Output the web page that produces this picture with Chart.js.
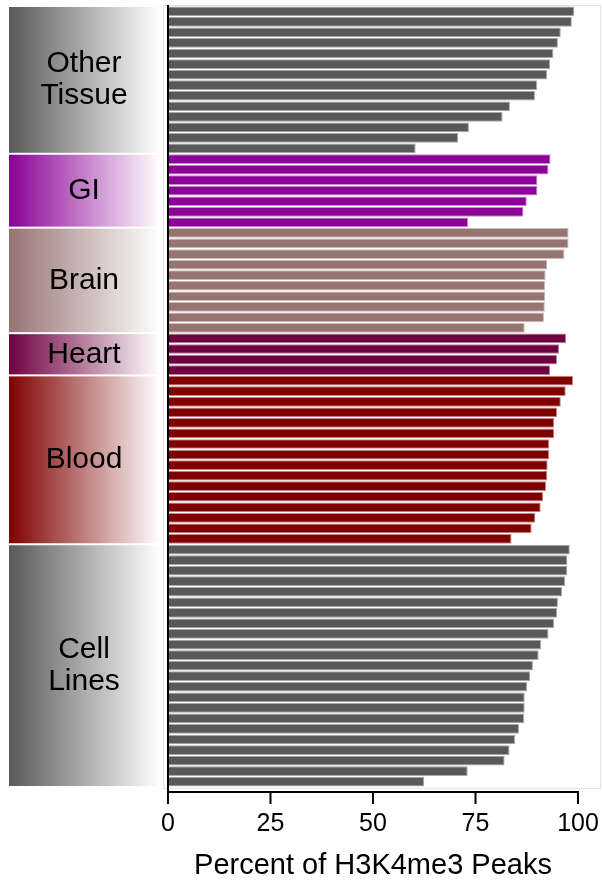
<!DOCTYPE html>
<html>
<head>
<meta charset="utf-8">
<script src="https://cdn.jsdelivr.net/npm/chart.js@4/dist/chart.umd.min.js"></script>
<style>
  html, body { margin: 0; padding: 0; background: #fff; }
  #wrap { width: 602px; height: 883px; }
</style>
</head>
<body>
<div id="wrap"><canvas id="peaks"></canvas></div>
<script>
// tissue groups, top to bottom
const groupNames = ['Other Tissue', 'GI', 'Brain', 'Heart', 'Blood', 'Cell Lines'];
const panelLabels = [['Other', 'Tissue'], ['GI'], ['Brain'], ['Heart'], ['Blood'], ['Cell', 'Lines']];
const groupColors = ['#595959', '#8b0096', '#967472', '#6e0040', '#800000', '#595959'];
const groupBorders = ['#a9a9a9', '#c48ccb', '#cdbbba', '#b586a0', '#c48a8a', '#a9a9a9'];

// percent of H3K4me3 peaks, one value per sample
const otherTissue = [99.1, 98.5, 95.8, 95.1, 94.0, 93.2, 92.5, 90.0, 89.5, 83.4, 81.6, 73.4, 70.8, 60.4];
const gi = [93.3, 92.8, 90.1, 90.1, 87.5, 86.7, 73.2];
const brain = [97.7, 97.7, 96.7, 92.5, 92.1, 92.0, 92.0, 91.9, 91.7, 87.0];
const heart = [97.1, 95.4, 94.9, 93.2];
const blood = [98.8, 97.0, 95.8, 94.9, 94.2, 94.2, 93.0, 93.0, 92.6, 92.5, 92.2, 91.5, 90.9, 89.6, 88.7, 83.8];
const cellLines = [98.0, 97.4, 97.4, 96.9, 96.1, 95.1, 94.9, 94.2, 92.8, 91.0, 90.4, 89.0, 88.3, 87.6, 87.0, 87.0, 86.9, 85.6, 84.7, 83.3, 82.1, 73.1, 62.5];

const tickValues = [0, 25, 50, 75, 100];
const axisTitle = 'Percent of H3K4me3 Peaks';

const groupValues = [otherTissue, gi, brain, heart, blood, cellLines];

// flatten groups into one category axis
var labels = [], values = [], fills = [], borders = [];
groupValues.forEach(function (arr, g) {
	arr.forEach(function (v, i) {
		labels.push(groupNames[g] + ' ' + (i + 1));
		values.push(v);
		fills.push(groupColors[g]);
		borders.push(groupBorders[g]);
	});
});

var FONT = '"Liberation Sans", Arial, Helvetica, sans-serif';

// gradient panels on the left + plot frame
var panelPlugin = {
	id: 'panels',
	beforeDatasetsDraw: function (chart) {
		var ctx = chart.ctx, a = chart.chartArea, y = chart.scales.y;
		var step = y.getPixelForValue(1) - y.getPixelForValue(0);
		ctx.save();
		ctx.strokeStyle = '#e4e4e4';
		ctx.lineWidth = 1;
		ctx.strokeRect(163.5, a.top - 0.5, chart.width - 165, a.bottom - a.top + 2);

		var start = 0;
		groupValues.forEach(function (arr, g) {
			var end = start + arr.length - 1;
			var top = y.getPixelForValue(start) - step / 2 + 1;
			var bot = y.getPixelForValue(end) + step / 2 - 1;
			var grad = ctx.createLinearGradient(9, 0, 160, 0);
			grad.addColorStop(0, groupColors[g]);
			grad.addColorStop(1, '#ffffff');
			ctx.fillStyle = grad;
			ctx.fillRect(9, top, 150, bot - top);

			ctx.fillStyle = '#000';
			ctx.font = '30px ' + FONT;
			ctx.textAlign = 'center';
			ctx.textBaseline = 'middle';
			var lines = panelLabels[g];
			var mid = (top + bot) / 2;
			lines.forEach(function (t, k) {
				ctx.fillText(t, 84, mid + (k - (lines.length - 1) / 2) * 32);
			});
			start = end + 1;
		});
		ctx.restore();
	},
	afterDraw: function (chart) {
		var ctx = chart.ctx, a = chart.chartArea, x = chart.scales.x;
		var x0 = x.getPixelForValue(0);
		var axisY = a.bottom + 5;
		ctx.save();
		ctx.strokeStyle = '#000';
		ctx.lineWidth = 2;
		ctx.beginPath();
		// y axis line
		ctx.moveTo(x0, a.top - 1);
		ctx.lineTo(x0, axisY + 1);
		// x axis line and ticks
		ctx.moveTo(x0 - 1, axisY);
		ctx.lineTo(x.getPixelForValue(100) + 1, axisY);
		tickValues.forEach(function (v) {
			var px = x.getPixelForValue(v);
			ctx.moveTo(px, axisY);
			ctx.lineTo(px, axisY + 12);
		});
		ctx.stroke();
		ctx.restore();
	}
};

new Chart(document.getElementById('peaks'), {
	type: 'bar',
	data: {
		labels: labels,
		datasets: [{
			data: values,
			backgroundColor: fills,
			borderColor: borders,
			borderWidth: 1,
			borderSkipped: false,
			categoryPercentage: 1,
			barPercentage: 0.92
		}]
	},
	options: {
		indexAxis: 'y',
		responsive: true,
		maintainAspectRatio: false,
		animation: false,
		layout: { padding: { left: 168, right: 24, top: 6, bottom: 0 } },
		plugins: {
			legend: { display: false },
			tooltip: { enabled: false }
		},
		scales: {
			y: { display: false },
			x: {
				min: 0,
				max: 100,
				afterBuildTicks: function (s) {
					s.ticks = tickValues.map(function (v) { return { value: v }; });
				},
				afterFit: function (s) {
					s.height = 96;
					s.paddingLeft = 0;
					s.paddingRight = 0;
				},
				grid: { display: false },
				border: { display: false },
				ticks: {
					color: '#000',
					padding: 14,
					maxRotation: 0,
					font: { family: FONT, size: 25 }
				},
				title: {
					display: true,
					text: axisTitle,
					color: '#000',
					padding: { top: 6, bottom: 0 },
					font: { family: FONT, size: 29 }
				}
			}
		}
	},
	plugins: [panelPlugin]
});
</script>
</body>
</html>
